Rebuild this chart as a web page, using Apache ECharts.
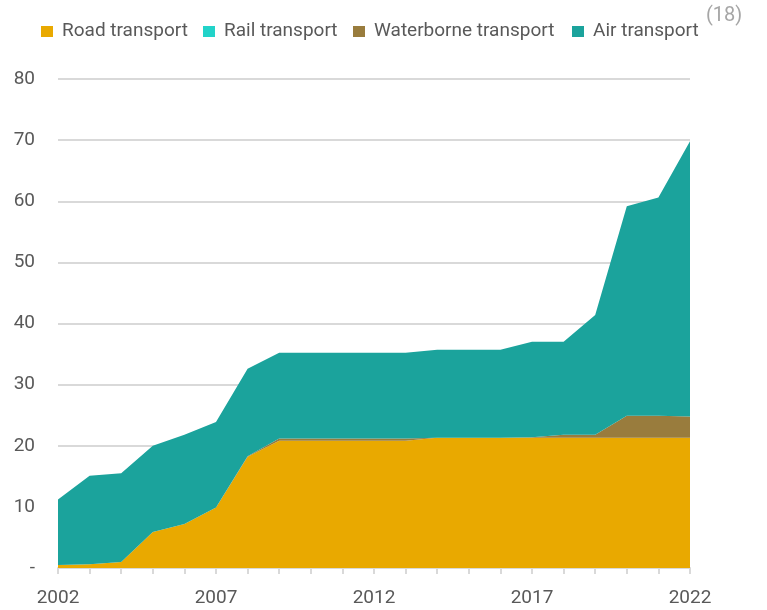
<!DOCTYPE html>
<html lang="en">
<head>
    <meta charset="UTF-8">
    <title>Transport</title>
    <script src="https://cdn.jsdelivr.net/npm/echarts@6/dist/echarts.min.js"></script>
    <style>
        *{padding:0;margin:0;}
        html,body{width:100%;height:100%;background:#fff;}
        #main{width:767px;height:610px;}
    </style>
</head>
<body>
<div id="main"></div>
<script>
    var years = ['2002','2003','2004','2005','2006','2007','2008','2009','2010','2011','2012',
                 '2013','2014','2015','2016','2017','2018','2019','2020','2021','2022'];
    var road = [0.5,0.6,1.0,5.9,7.2,9.9,18.2,20.8,20.8,20.8,20.8,20.8,21.3,21.3,21.3,21.3,21.3,21.3,21.3,21.3,21.3];
    var rail = [0,0,0,0,0,0,0,0,0,0,0,0,0,0,0,0,0,0,0,0,0];
    var waterborne = [0,0,0,0,0,0,0.1,0.4,0.4,0.4,0.4,0.4,0,0,0,0.1,0.5,0.5,3.6,3.6,3.5];
    var air = [10.7,14.5,14.5,14.1,14.6,14.0,14.3,14.0,14.0,14.0,14.0,14.0,14.4,14.4,14.4,15.6,15.2,19.6,34.3,35.7,45.0];
    var seriesNames = ['Road transport','Rail transport','Waterborne transport','Air transport'];
    var yTicks = [0,10,20,30,40,50,60,70,80];

    var myChart = echarts.init(document.getElementById('main'));
    var font = 'Roboto, "Liberation Sans", sans-serif';

    function area(name, data, color){
        return {
            name: name,
            type: 'line',
            stack: 'total',
            data: data,
            symbol: 'none',
            lineStyle: {width: 0},
            areaStyle: {color: color, opacity: 1},
            itemStyle: {color: color}
        };
    }

    // one legend per item so each sits where it does in the original
    var legendLeft = [36, 198, 348, 567];
    var legends = [];
    for (var i = 0; i < seriesNames.length; i++) {
        legends.push({
            left: legendLeft[i],
            top: 17,
            itemWidth: 12,
            itemHeight: 11,
            itemGap: 0,
            icon: 'rect',
            textStyle: {color: '#595959', fontSize: 19, fontFamily: font, padding: [0, 0, 0, 4]},
            data: [seriesNames[i]]
        });
    }

    var option = {
        animation: false,
        legend: legends,
        graphic: [{
            type: 'text',
            left: 706,
            top: 6,
            style: {text: '(18)', fill: '#A6A6A6', fontSize: 20, fontFamily: font}
        }],
        grid: {left: 58, right: 77, top: 79, bottom: 42},
        xAxis: {
            type: 'category',
            data: years,
            boundaryGap: false,
            axisLine: {lineStyle: {color: '#D9D9D9', width: 2}},
            axisTick: {show: true, interval: 0, length: 6, lineStyle: {color: '#D9D9D9', width: 2}},
            axisLabel: {interval: 4, color: '#595959', fontSize: 19, fontFamily: font, margin: 21}
        },
        yAxis: {
            type: 'value',
            min: yTicks[0],
            max: yTicks[yTicks.length - 1],
            interval: 10,
            axisLine: {show: false},
            axisTick: {show: false},
            splitLine: {lineStyle: {color: '#D9D9D9', width: 2}},
            axisLabel: {
                color: '#595959', fontSize: 19, fontFamily: font, margin: 23,
                formatter: function (v) { return v === 0 ? '-' : String(v); }
            }
        },
        series: [
            area(seriesNames[0], road, '#E9A900'),
            area(seriesNames[1], rail, '#22D3C9'),
            area(seriesNames[2], waterborne, '#997C3D'),
            area(seriesNames[3], air, '#1BA39C')
        ]
    };
    myChart.setOption(option);
</script>
</body>
</html>
